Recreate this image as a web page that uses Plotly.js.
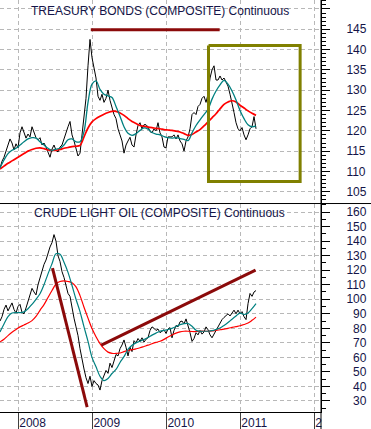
<!DOCTYPE html>
<html>
<head>
<meta charset="utf-8">
<script src="https://cdn.plot.ly/plotly-3.0.1.min.js"></script>
<style>
  html, body { margin: 0; padding: 0; background: #ffffff; }
  #chart { width: 371px; height: 429px; }
</style>
</head>
<body>
<div id="chart"></div>
<script>
// ---------------- data ----------------
// Time index: samples start 2007-10-03; prices every ~9.87 days, averages every ~19.74 days
const seriesStart = '2007-10-03';
const priceStepDays = 9.87;
const avgStepDays = 19.74;

const panelTitles = ['TREASURY BONDS (COMPOSITE) Continuous', 'CRUDE LIGHT OIL (COMPOSITE) Continuous'];

const yearTicks = ['2008-01-01', '2009-01-01', '2010-01-01', '2011-01-01', '2012-01-01'];
const yearLabels = ['2008', '2009', '2010', '2011', '2'];

const bondTicks = [105, 110, 115, 120, 125, 130, 135, 140, 145, 150];
const bondTickLabels = ['105', '110', '115', '120', '125', '130', '135', '140', '145', ''];
const oilTicks = [30, 40, 50, 60, 70, 80, 90, 100, 110, 120, 130, 140, 150, 160];
const oilTickLabels = ['\u200730', '\u200740', '\u200750', '\u200760', '\u200770', '\u200780', '\u200790',
  '100', '110', '120', '130', '140', '150', '160'];

const bondPrice = [110.8,112.5,113.5,114.8,116.5,118,117,115.3,116.8,115.8,
  119.5,121,119.5,118.2,119.2,118.5,121,119.5,118.3,117.8,
  118.3,116.5,117,116,114.8,113.5,115.5,116.5,115.2,114.8,
  116,116.5,118,119.8,121,122.3,119,117.5,115.5,113.8,
  114.5,119,123,128,136,142.5,138,135,133,128.5,
  127.5,129,127,128,130,127.5,125.5,124,123,120.5,
  119,117.5,114.5,116.5,117.5,118.4,116.5,116,119,121.3,
  122,120.5,121.5,121.5,121,119.8,119.5,120.5,120,122,
  119.5,118.5,116,115.8,118.5,118.5,118.5,119,118,119,
  117.5,116.8,115,117.5,118.5,120.5,124,124.5,124,126,
  126.5,128,128.5,127,129,133,135,136,132.5,132.5,
  133.5,132.5,133,132,131,129,127,124.5,122,120.5,
  120,120.8,119,117.8,119,120.5,121,123.5,120.5];

const bondFastAvg = [110.8,112.8,114.4,115.2,115.7,116.5,117.3,118,118.3,118.2,
  117.3,116.5,115.7,115.2,115.5,115.7,116.5,117.8,118,117.3,
  117.3,119.8,127,131.5,132.3,130.2,129,128.6,128.2,126,
  123.6,121,119.4,118.9,119.3,120.1,120.7,120.4,119.6,119.2,
  119,118.6,118.3,118.2,118.3,118.1,117.9,117.6,119.5,121.3,
  122.7,124,125.3,127.8,129.8,131.3,132.4,131.5,129.8,127.6,
  125,123,121.5,121,121.2];

const bondSlowAvg = [110.6,111.3,112,112.6,113.2,113.8,114.4,115,115.4,115.7,
  115.8,115.6,115.3,115.2,115.2,115.4,115.7,115.9,116.1,116.2,
  116.4,118.5,120.7,122.2,123,123.6,124.1,124.5,124.8,124.8,
  124.4,123.8,123,122.3,121.8,121.3,121.1,120.9,120.8,120.6,
  120.5,120.3,120.2,120.1,119.9,119.7,119.3,118.9,119.1,119.7,
  120.3,121.2,122.2,123.2,124.2,125.4,126.5,127.1,127.4,127.1,
  126.3,125.6,124.9,124.3,123.8];

const oilPrice = [85,88,93,96,92,95,97.5,93,90.5,95,
  96.5,91,90,94,99,104,107.5,105,103,110,
  115,119,124,127,132,136,139,144.5,140,130,
  126,119,115,110,104,102,93.5,87,81,75,
  66,58,52,46,42,47,40,44,42,41,
  37.5,44,48,51,49,56,53,58,62,61,
  66,68.5,72,67,61,67,64,71.5,70,73,
  71,73.5,70.5,72.5,73.5,78.5,81,80,78.5,79.5,
  77,78,79,76.5,79.5,80.5,73.5,78.5,82,81,
  84.5,85,83,86.5,82,77,71,73,77,75.5,
  78.5,76,77.5,81,79,75.5,73.5,76,78,80.5,
  84,86,87.5,89,90,88.5,91,92.5,90,92.5,
  90,91.5,88,86,97,104,102,105,106];

const oilFastAvg = [77.5,83,88,90.5,90.8,90.8,91.3,93.5,96.5,100,
  103.8,110,117.5,124.5,131.3,131,125.5,118.5,109.5,100,
  91.5,81,71,60,53.5,47,44,45.5,48.9,51.7,
  56.5,60.5,65.5,68.3,70,71.1,72.4,73.7,75.3,76.7,
  78,78.6,79.2,80,81.2,82.5,83.2,83.3,81.4,78.7,
  78,78,78,78.4,79.2,80.2,82,84,86.3,88.5,
  90.5,89.5,90.5,93.5,97];

const oilSlowAvg = [70.7,72.5,75,77.3,79.2,81,82.3,83.6,85.3,88.2,
  92.4,96.3,101.2,106,110.5,112.2,112.6,112.2,111.4,108.5,
  102.5,94.5,87,79.8,74.2,69.5,66,63.6,62.8,62.7,
  63,64,64.8,65.3,65.9,66.6,67.5,68.4,69.4,70.3,
  71.1,72.4,74,75.4,76.7,77.6,78,78,77.8,77.8,
  78,78,78,78.2,78.6,79,79.5,80,80.6,81.2,
  81.8,82.6,83.6,85.5,87.7];

// Hand-drawn annotations (date, price)
const bondTopLineDates = ['2008-12-24', '2010-09-21'];
const bondTopLineValues = [144.9, 144.9];
const bondBoxDates = ['2010-07-28', '2011-10-23', '2011-10-23', '2010-07-28', '2010-07-28'];
const bondBoxValues = [141, 141, 107.5, 107.5, 141];
const oilFallLineDates = ['2008-06-18', '2008-12-06'];
const oilFallLineValues = [121.5, 25.7];
const oilRiseLineDates = ['2009-02-14', '2011-03-17'];
const oilRiseLineValues = [68.4, 120];

// ---------------- build ----------------
function makeDates(n, stepDays) {
  const t0 = Date.parse(seriesStart + 'T00:00:00Z');
  const out = [];
  for (let i = 0; i < n; i++) {
    out.push(new Date(t0 + i * stepDays * 86400000).toISOString().slice(0, 19).replace('T', ' '));
  }
  return out;
}

const bondDates = makeDates(bondPrice.length, priceStepDays);
const oilDates = makeDates(oilPrice.length, priceStepDays);
const bondAvgDates = makeDates(bondFastAvg.length, avgStepDays);
const oilAvgDates = makeDates(oilFastAvg.length, avgStepDays);

const BLACK = '#000000', TEAL = '#008080', RED = '#ff0000', MAROON = '#8b0a0a', OLIVE = '#808000';
const TXT = '#141448';
const FONT = 'Liberation Sans, Arial, sans-serif';

const traces = [
  {x: bondDates, y: bondPrice, xaxis: 'x', yaxis: 'y', mode: 'lines', line: {color: BLACK, width: 1}},
  {x: bondAvgDates, y: bondSlowAvg, xaxis: 'x', yaxis: 'y', mode: 'lines', line: {color: RED, width: 1.7, shape: 'spline'}},
  {x: bondAvgDates, y: bondFastAvg, xaxis: 'x', yaxis: 'y', mode: 'lines', line: {color: TEAL, width: 1.3, shape: 'spline'}},
  {x: bondTopLineDates, y: bondTopLineValues, xaxis: 'x', yaxis: 'y', mode: 'lines', line: {color: MAROON, width: 3}},
  {x: bondBoxDates, y: bondBoxValues, xaxis: 'x', yaxis: 'y', mode: 'lines', line: {color: OLIVE, width: 3}},

  {x: oilDates, y: oilPrice, xaxis: 'x', yaxis: 'y2', mode: 'lines', line: {color: BLACK, width: 1}},
  {x: oilAvgDates, y: oilSlowAvg, xaxis: 'x', yaxis: 'y2', mode: 'lines', line: {color: RED, width: 1.2, shape: 'spline'}},
  {x: oilAvgDates, y: oilFastAvg, xaxis: 'x', yaxis: 'y2', mode: 'lines', line: {color: TEAL, width: 1.2, shape: 'spline'}},
  {x: oilFallLineDates, y: oilFallLineValues, xaxis: 'x', yaxis: 'y2', mode: 'lines', line: {color: MAROON, width: 3}},
  {x: oilRiseLineDates, y: oilRiseLineValues, xaxis: 'x', yaxis: 'y2', mode: 'lines', line: {color: MAROON, width: 3}}
];

const gridCommon = {
  showgrid: true, gridcolor: '#b8b8b8', griddash: '4px,3px', gridwidth: 1,
  zeroline: false
};

const SPLIT = 0.506;

const layout = {
  width: 371, height: 429,
  margin: {l: 0, r: 50, t: 0, b: 17, pad: 0},
  paper_bgcolor: '#ffffff', plot_bgcolor: '#ffffff',
  showlegend: false,
  font: {family: FONT, size: 12, color: TXT},
  xaxis: Object.assign({}, gridCommon, {
    type: 'date', anchor: 'y2', domain: [0, 1],
    range: ['2007-10-03', '2012-02-03'],
    tickmode: 'array', tickvals: yearTicks, ticktext: yearLabels,
    ticks: 'outside', ticklen: 17, tickwidth: 1, tickcolor: '#404040',
    ticklabelposition: 'outside right', ticklabelstandoff: 0,
    showline: true, linecolor: BLACK, linewidth: 1,
    tickfont: {family: FONT, size: 12, color: TXT}
  }),
  yaxis: Object.assign({}, gridCommon, {
    domain: [SPLIT, 1], anchor: 'x', side: 'right',
    range: [102.1, 152.2],
    tickmode: 'array', tickvals: bondTicks, ticktext: bondTickLabels,
    ticks: 'outside', ticklen: 8, tickwidth: 1, tickcolor: BLACK,
    minor: {tickmode: 'linear', tick0: 0, dtick: 1, ticks: 'outside', ticklen: 4, tickcolor: BLACK, showgrid: false},
    ticklabelstandoff: 14,
    showline: true, linecolor: BLACK, linewidth: 1,
    tickfont: {family: FONT, size: 12, color: TXT}
  }),
  yaxis2: Object.assign({}, gridCommon, {
    domain: [0, SPLIT], anchor: 'x', side: 'right',
    range: [22.4, 165.9],
    tickmode: 'array', tickvals: oilTicks, ticktext: oilTickLabels,
    ticks: 'outside', ticklen: 8, tickwidth: 1, tickcolor: BLACK,
    minor: {tickmode: 'linear', tick0: 0, dtick: 5, ticks: 'outside', ticklen: 4, tickcolor: BLACK, showgrid: false},
    ticklabelstandoff: 14,
    showline: true, linecolor: BLACK, linewidth: 1,
    tickfont: {family: FONT, size: 12, color: TXT}
  }),
  shapes: [
    {type: 'line', xref: 'paper', yref: 'paper', x0: 0, x1: 371 / 321, y0: SPLIT, y1: SPLIT,
     line: {color: BLACK, width: 1}},
    {type: 'line', xref: 'paper', yref: 'paper', x0: 1, x1: 1, y0: -17 / 412, y1: 1,
     line: {color: BLACK, width: 1}}
  ],
  annotations: [
    {text: panelTitles[0], xref: 'paper', yref: 'paper', x: 0.4984, y: 0.9733,
     xanchor: 'center', yanchor: 'middle', showarrow: false,
     font: {family: FONT, size: 12, color: TXT}},
    {text: panelTitles[1], xref: 'paper', yref: 'paper', x: 0.4984, y: 0.483,
     xanchor: 'center', yanchor: 'middle', showarrow: false,
     font: {family: FONT, size: 12, color: TXT}}
  ]
};

Plotly.newPlot('chart', traces, layout, {staticPlot: true, displayModeBar: false});
</script>
</body>
</html>
